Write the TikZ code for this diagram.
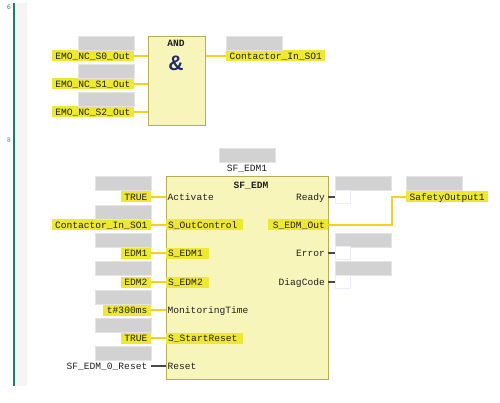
\documentclass[tikz,border=0pt]{standalone}
\usepackage{fontspec}
\setmonofont{Liberation Mono}
\newfontfamily\signfont{Liberation Sans}
\definecolor{boxfill}{HTML}{F8F5BB}
\definecolor{boxline}{HTML}{B5AE55}
\definecolor{marked}{HTML}{EEE833}
\definecolor{wirecol}{HTML}{F4D320}
\definecolor{darkwire}{HTML}{4A4A4A}
\definecolor{namegray}{HTML}{D2D2D2}
\definecolor{railcol}{HTML}{1F7A7A}
\definecolor{stripcol}{HTML}{F5F5F5}
\definecolor{textcol}{HTML}{202020}
\definecolor{signcol}{HTML}{1F2A6E}
\tikzset{
  txt/.style={font=\ttfamily\fontsize{9.6}{11}\selectfont,text=textcol,inner ysep=0pt,inner xsep=3.5pt,minimum height=11pt,text height=8pt,text depth=1pt},
  varname/.style={txt,fill=marked,anchor=east},
  outname/.style={txt,fill=marked,anchor=west},
  plainname/.style={txt,anchor=east},
  pinon/.style={txt,fill=marked,anchor=west,inner xsep=2pt,execute at end node=\hspace{4pt}},
  pinoff/.style={txt,anchor=west,inner xsep=2pt},
  pinright/.style={txt,anchor=east,inner xsep=3pt},
  namebox/.style={fill=namegray,draw=namegray!60,line width=0.4pt,minimum width=56pt,minimum height=14pt,inner sep=0pt,anchor=south west},
  emptybox/.style={fill=white,draw=blue!8,line width=0.8pt,minimum width=14.5pt,minimum height=13pt,inner sep=0pt,anchor=west},
  fbbox/.style={fill=boxfill,draw=boxline,line width=1pt,inner sep=0pt,anchor=north west},
  wire/.style={wirecol,line width=1.6pt},
  darkline/.style={darkwire,line width=1.4pt},
  netnum/.style={font=\sffamily\fontsize{7}{8}\selectfont,text=railcol!60!gray,inner sep=0pt}
}
\begin{document}
\begin{tikzpicture}[x=1pt,y=-1pt]
\useasboundingbox (0,0) rectangle (500,403);
% editor margin
\fill[stripcol] (15,3) rectangle (27,386);
\draw[railcol,line width=1.5pt] (14,3) -- (14,386);
\node[netnum] (num6) at (9,7) {6};
\node[netnum] (num8) at (9,140) {8};
% AND block
\node[fbbox,minimum width=57pt,minimum height=89.5pt] (andbox) at (148,36) {};
\node[txt] (andtitle) at (176,43.5) {\textbf{AND}};
\node[inner sep=0pt,text=signcol,font=\signfont\bfseries\fontsize{21}{22}\selectfont] (andsign) at (176,63) {\&};
\node[varname] (emo0) at (134,56) {EMO\_NC\_S0\_Out};
\node[varname] (emo1) at (134,84) {EMO\_NC\_S1\_Out};
\node[varname] (emo2) at (134,112) {EMO\_NC\_S2\_Out};
\node[namebox] (emo0name) at (78,50) {};
\node[namebox] (emo1name) at (78,78) {};
\node[namebox] (emo2name) at (78,106.5) {};
\node[outname] (contout) at (226,56) {Contactor\_In\_SO1};
\node[namebox] (contoutname) at (226,50) {};
\draw[wire] (emo0.east) -- (emo0.east -| andbox.west);
\draw[wire] (emo1.east) -- (emo1.east -| andbox.west);
\draw[wire] (emo2.east) -- (emo2.east -| andbox.west);
\draw[wire] (contout.west -| andbox.east) -- (contout.west);
% SF_EDM block
\node[namebox] (edminst) at (219,162) {};
\node[txt] (edmname) at (247,168.5) {SF\_EDM1};
\node[fbbox,minimum width=162.5pt,minimum height=202.5pt] (edmbox) at (165.5,176.5) {};
\node[txt] (edmtitle) at (251,185) {\textbf{SF\_EDM}};
% inputs
\node[varname] (act) at (151,197) {TRUE};
\node[varname] (ctrl) at (151,225) {Contactor\_In\_SO1};
\node[varname] (edmone) at (151,253) {EDM1};
\node[varname] (edmtwo) at (151,282) {EDM2};
\node[varname] (mtime) at (151,310) {t\#300ms};
\node[varname] (start) at (151,338) {TRUE};
\node[plainname] (rst) at (151,366) {SF\_EDM\_0\_Reset};
\node[namebox] (actname) at (95,190.5) {};
\node[namebox] (ctrlname) at (95,219) {};
\node[namebox] (edmonename) at (95,247.5) {};
\node[namebox] (edmtwoname) at (95,275.5) {};
\node[namebox] (mtimename) at (95,304) {};
\node[namebox] (startname) at (95,332.5) {};
\node[namebox] (rstname) at (95,360.5) {};
\node[pinoff] (pinact) at (165.5,197) {Activate};
\node[pinon] (pinctrl) at (166,225) {S\_OutControl};
\node[pinon] (pinedmone) at (166,253) {S\_EDM1};
\node[pinon] (pinedmtwo) at (166,282) {S\_EDM2};
\node[pinoff] (pinmtime) at (165.5,310) {MonitoringTime};
\node[pinon] (pinstart) at (166,338) {S\_StartReset};
\node[pinoff] (pinrst) at (165.5,366) {Reset};
\draw[wire] (act.east) -- (pinact.west);
\draw[wire] (ctrl.east) -- (pinctrl.west);
\draw[wire] (edmone.east) -- (pinedmone.west);
\draw[wire] (edmtwo.east) -- (pinedmtwo.west);
\draw[wire] (mtime.east) -- (pinmtime.west);
\draw[wire] (start.east) -- (pinstart.west);
\draw[darkline] (rst.east) -- (pinrst.west);
% outputs
\node[pinright] (pinready) at (328,197) {Ready};
\node[pinright,fill=marked,execute at begin node=\hspace{2pt}] (pinout) at (328,225) {S\_EDM\_Out};
\node[pinright] (pinerror) at (328,253) {Error};
\node[pinright] (pindiag) at (328,282) {DiagCode};
\node[namebox] (readyname) at (335,190) {};
\node[namebox] (errorname) at (335,247) {};
\node[namebox] (diagname) at (335,275) {};
\node[emptybox] (readyvar) at (335,197) {};
\node[emptybox] (errorvar) at (335,253) {};
\node[emptybox] (diagvar) at (335,282) {};
\node[outname] (safety) at (406,197) {SafetyOutput1};
\node[namebox] (safetyname) at (406,190.5) {};
\draw[darkline] (pinready.east) -- (readyvar.west);
\draw[darkline] (pinerror.east) -- (errorvar.west);
\draw[darkline] (pindiag.east) -- (diagvar.west);
\draw[wire] (pinout.east) -- ++(64,0) |- (safety.west);
\end{tikzpicture}
\end{document}
